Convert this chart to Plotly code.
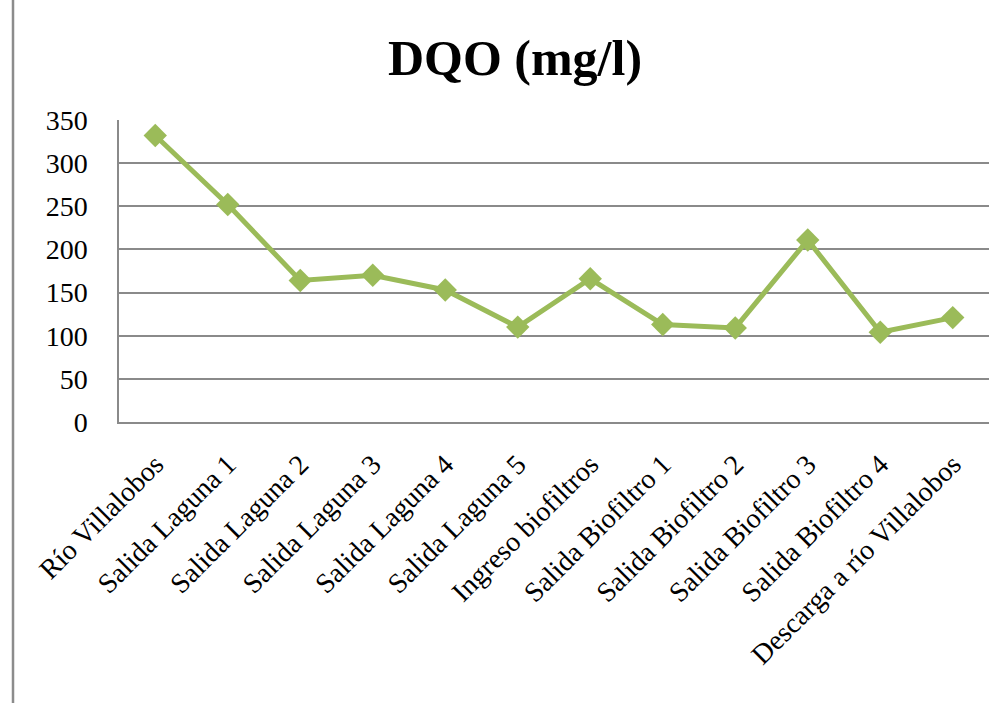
import plotly.graph_objects as go

# Sampling points along the treatment system
puntos = [
    "Río Villalobos",
    "Salida Laguna 1",
    "Salida Laguna 2",
    "Salida Laguna 3",
    "Salida Laguna 4",
    "Salida Laguna 5",
    "Ingreso biofiltros",
    "Salida Biofiltro 1",
    "Salida Biofiltro 2",
    "Salida Biofiltro 3",
    "Salida Biofiltro 4",
    "Descarga a río Villalobos",
]

# Chemical oxygen demand, mg/l
dqo = [332, 252, 164, 170, 153, 110, 166, 113, 109, 211, 104, 121]

y_ticks = [0, 50, 100, 150, 200, 250, 300, 350]

FONT = "Liberation Serif"
GREEN = "#9BBB59"
GRID = "#8A8A8A"

W, H = 997, 703
L, R, T, B = 119, 8, 120, 281

fig = go.Figure()
fig.add_trace(
    go.Scatter(
        x=puntos,
        y=dqo,
        mode="lines+markers",
        line=dict(color=GREEN, width=5),
        marker=dict(symbol="diamond", size=18, color=GREEN),
        showlegend=False,
        hoverinfo="x+y",
    )
)

fig.update_layout(
    width=W,
    height=H,
    margin=dict(l=L, r=R, t=T, b=B, autoexpand=False),
    paper_bgcolor="white",
    plot_bgcolor="white",
    title=dict(
        text="<b>DQO (mg/l)</b>",
        font=dict(family=FONT, size=50, color="black"),
        x=515 / W,
        xanchor="center",
        y=1 - 57 / H,
        yanchor="middle",
    ),
    xaxis=dict(
        type="category",
        tickangle=-45,
        tickfont=dict(family=FONT, size=28, color="black"),
        showgrid=False,
        showline=True,
        linecolor=GRID,
        linewidth=1.5,
        ticks="outside",
        ticklen=13,
        tickcolor="rgba(0,0,0,0)",
        automargin=False,
        range=[-0.5, len(puntos) - 0.5],
    ),
    yaxis=dict(
        range=[0, 350],
        tickvals=y_ticks,
        tickfont=dict(family=FONT, size=28, color="black"),
        showgrid=True,
        gridcolor=GRID,
        gridwidth=1.5,
        showline=True,
        linecolor=GRID,
        linewidth=1.5,
        zeroline=False,
        ticks="outside",
        ticklen=24,
        tickcolor="rgba(0,0,0,0)",
        automargin=False,
    ),
    shapes=[
        # outer chart frame edge on the left
        dict(
            type="line",
            xref="paper",
            yref="paper",
            x0=(13 - L) / (W - L - R),
            x1=(13 - L) / (W - L - R),
            y0=-(B) / (H - T - B),
            y1=1 + T / (H - T - B),
            line=dict(color="#8C8C8C", width=2.5),
        )
    ],
)

fig.write_html("out.html")
